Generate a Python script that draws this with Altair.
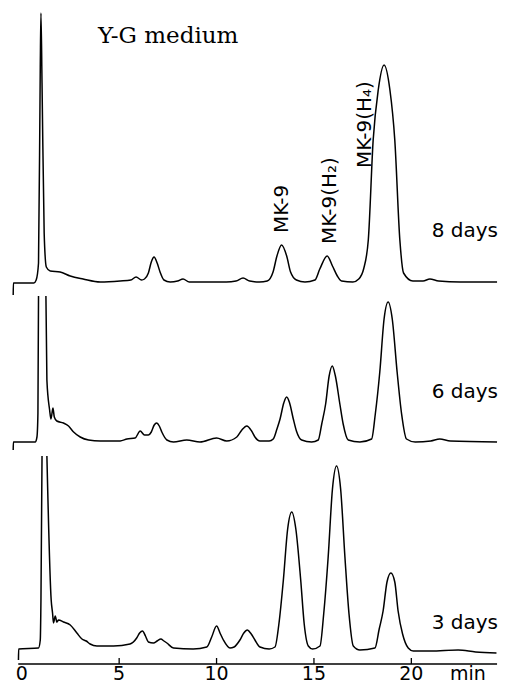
import altair as alt
import pandas as pd

# ---- retention time (min) and detector signal above each trace's baseline ----
T8 = [-0.44, -0.43, 0.55, 0.62, 0.74, 0.86, 0.95, 0.985, 1.04, 1.15,
      1.26, 1.46, 1.97, 2.49, 3.15, 4.03, 5.05, 5.6, 5.87, 6.15,
      6.3, 6.5, 6.65, 6.79, 6.95, 7.1, 7.3, 7.62, 8.0, 8.28,
      8.6, 9.5, 10.5, 11.0, 11.36, 11.7, 12.2, 12.6, 12.9, 13.1,
      13.34, 13.6, 13.8, 14.1, 14.54, 15.05, 15.3, 15.68, 15.95, 16.2,
      16.42, 17.0, 17.3, 17.55, 17.79, 18.04, 18.3, 18.6, 18.9, 19.15,
      19.41, 19.6, 20.08, 20.6, 20.95, 21.4, 22.5, 24.4]
S8 = [-13, -1, -1, -1, 2, 19, 215, 269, 199, 49,
      15, 11, 10, 6, 3, 0, 1, 2, 5, 2,
      3, 9, 20, 25, 19, 10, 2, 0, 1, 3,
      0, 0, 0, 1, 4, 1, 0, 1, 10, 26,
      37, 26, 10, 2, 0, 2, 13, 26, 16, 6,
      1, 0, 3, 13, 42, 142, 192, 217, 192, 142,
      42, 9, 1, 1, 3, 1, 0, 0]

T6A = [-0.44, -0.43, 0.69, 0.78, 0.83, 0.86]
S6A = [-8, 0, 0, 5, 29, 146]
T6B = [1.24, 1.29, 1.43, 1.5, 1.6, 1.67, 1.8, 2.14, 2.4, 2.66,
       3.0, 3.43, 4.03, 5.05, 5.4, 5.82, 6.08, 6.3, 6.5, 6.65,
       6.8, 6.93, 7.06, 7.19, 7.45, 7.79, 8.47, 9.15, 10.0, 10.52,
       11.04, 11.3, 11.55, 11.8, 11.97, 12.23, 12.7, 12.91, 13.1, 13.26,
       13.45, 13.6, 13.75, 13.94, 14.1, 14.37, 14.88, 15.22, 15.4, 15.6,
       15.78, 15.94, 16.1, 16.33, 16.5, 16.76, 17.36, 17.96, 18.15, 18.38,
       18.6, 18.81, 19.02, 19.27, 19.5, 19.75, 20.2, 21.0, 21.46, 22.0,
       24.4]
S6B = [146, 62, 32, 23, 34, 25, 21, 19, 16, 10,
       5, 2, 1, 1, 3, 4, 11, 7, 7, 10,
       17, 19, 16, 10, 2, 0, 2, 0, 4, 1,
       5, 12, 16, 11, 5, 1, 1, 3, 13, 23,
       39, 45, 39, 23, 11, 2, 0, 2, 18, 38,
       66, 76, 66, 38, 18, 2, 0, 3, 28, 70,
       123, 140, 123, 70, 28, 3, 0, 1, 3, 1,
       0]

T3A = [-0.17, -0.16, 0.86, 0.95, 0.985, 1.04]
S3A = [-11, 0, 1, 9, 49, 193]
T3B = [1.29, 1.51, 1.58, 1.63, 1.72, 1.8, 1.89, 2.14, 2.49, 2.83,
       3.09, 3.31, 3.51, 3.86, 4.71, 5.56, 5.9, 6.05, 6.2, 6.35,
       6.5, 6.76, 6.95, 7.14, 7.3, 7.45, 7.79, 8.8, 9.5, 9.75,
       10.0, 10.2, 10.35, 10.69, 10.9, 11.2, 11.4, 11.58, 11.78, 11.97,
       12.23, 12.7, 13.0, 13.2, 13.43, 13.65, 13.86, 14.07, 14.32, 14.5,
       14.71, 14.93, 15.31, 15.5, 15.73, 15.95, 16.16, 16.37, 16.59, 16.8,
       17.02, 17.36, 18.13, 18.35, 18.55, 18.75, 18.95, 19.15, 19.32, 19.55,
       19.84, 20.1, 21.0, 22.4, 23.3, 24.37]
S3B = [193, 49, 36, 26, 33, 27, 29, 27, 24, 16,
       10, 8, 5, 3, 3, 5, 11, 16, 18, 13,
       7, 6, 8, 10, 8, 6, 1, 0, 2, 12,
       23, 15, 9, 1, 2, 9, 16, 19, 15, 9,
       2, 0, 2, 25, 69, 120, 137, 120, 69, 25,
       3, 0, 3, 35, 92, 160, 183, 160, 92, 35,
       3, -1, 1, 20, 38, 67, 76, 67, 38, 15,
       1, -2, -2, -1, -3, -4]

# vertical stacking of the three chromatograms (chart units)
OFFSETS = {"8 days": 382, "6 days": 222, "3 days": 15}

AXIS_TICKS = [5, 10, 15, 20]
AXIS_LABELS = ["0", "5", "10", "15", "20"]
AXIS_LABEL_T = [0, 5, 10, 15, 20]

PEAK_NAMES = ["MK-9", "MK-9(H\u2082)", "MK-9(H\u2084)"]
PEAK_LABEL_T = [13.36, 15.82, 17.64]
PEAK_LABEL_V = [431, 420, 496]

DAY_NAMES = ["8 days", "6 days", "3 days"]
DAY_LABEL_V = [427, 266, 35]

# ---- build tables ----
rows = []
def add(trace, seg, ts, ss):
    for i, (t, s) in enumerate(zip(ts, ss)):
        rows.append({"seg": f"{trace}-{seg}", "i": i, "t": t, "v": s + OFFSETS[trace]})

add("8 days", 0, T8, S8)
add("6 days", 0, T6A, S6A)
add("6 days", 1, T6B, S6B)
add("3 days", 0, T3A, S3A)
add("3 days", 1, T3B, S3B)
df = pd.DataFrame(rows)

xs = alt.Scale(domain=[-0.45, 24.5], nice=False, zero=False)
ys = alt.Scale(domain=[0, 656], nice=False, zero=False)

X = lambda f: alt.X(f, type="quantitative", scale=xs, axis=None)
Y = lambda f: alt.Y(f, type="quantitative", scale=ys, axis=None)

lines = alt.Chart(df).mark_line(
    interpolate="monotone", color="black", strokeWidth=1.5
).encode(x=X("t"), y=Y("v"), detail="seg:N", order="i:Q")

axis_df = pd.DataFrame({"t0": [-0.18], "t1": [24.4], "v": [0]})
axis_line = alt.Chart(axis_df).mark_rule(color="black", strokeWidth=1.7).encode(
    x=X("t0"), x2="t1:Q", y=Y("v"))

tick_df = pd.DataFrame({"t": AXIS_TICKS, "v0": [0] * 4, "v1": [6] * 4})
ticks = alt.Chart(tick_df).mark_rule(color="black", strokeWidth=1.3).encode(
    x=X("t"), y=Y("v0"), y2="v1:Q")

lab_df = pd.DataFrame({"t": AXIS_LABEL_T + [22.9], "lab": AXIS_LABELS + ["min"],
                       "v": [-16] * 6})
axis_labels = alt.Chart(lab_df).mark_text(
    font="DejaVu Sans", fontSize=19, color="black", align="center", baseline="alphabetic"
).encode(x=X("t"), y=Y("v"), text="lab:N")

peak_df = pd.DataFrame({"t": PEAK_LABEL_T, "v": PEAK_LABEL_V, "lab": PEAK_NAMES})
peak_labels = alt.Chart(peak_df).mark_text(
    font="DejaVu Sans", fontSize=20, color="black", angle=270, align="left", baseline="middle"
).encode(x=X("t"), y=Y("v"), text="lab:N")

day_df = pd.DataFrame({"t": [24.45] * 3, "v": DAY_LABEL_V, "lab": DAY_NAMES})
day_labels = alt.Chart(day_df).mark_text(
    font="DejaVu Sans", fontSize=20, color="black", align="right", baseline="alphabetic"
).encode(x=X("t"), y=Y("v"), text="lab:N")

title_df = pd.DataFrame({"t": [3.92], "v": [621], "lab": ["Y-G medium"]})
title = alt.Chart(title_df).mark_text(
    font="DejaVu Serif", fontSize=23, color="black", align="left", baseline="alphabetic"
).encode(x=X("t"), y=Y("v"), text="lab:N")

chart = alt.layer(lines, axis_line, ticks, axis_labels, peak_labels, day_labels, title).properties(
    width=486, height=656,
    padding={"left": 5, "right": 0, "top": 0, "bottom": 21},
    autosize=alt.AutoSizeParams(type="none"),
    background="white",
).configure_view(stroke=None)

chart.save("out.html", embed_options={"renderer": "svg", "actions": False})
